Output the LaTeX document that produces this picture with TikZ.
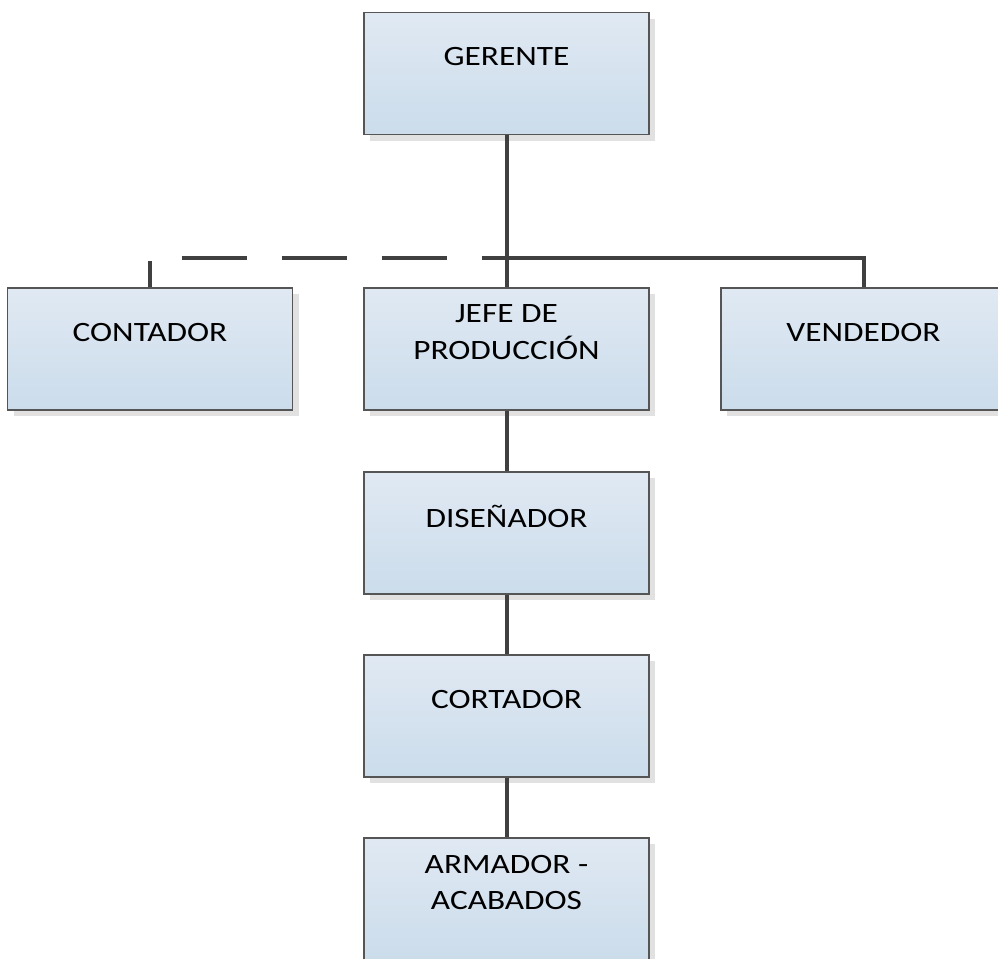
\documentclass[tikz,border=0pt]{standalone}
\usepackage{fontspec}
\setmainfont{Carlito}
\newfontfamily\rotulofont[FakeStretch=1.19]{Carlito}
\usetikzlibrary{positioning,calc,shadows}

\definecolor{boxtop}{RGB}{224,233,243}
\definecolor{boxbot}{RGB}{203,220,235}
\definecolor{boxline}{RGB}{85,85,85}
\definecolor{boxshadow}{RGB}{225,225,225}
\definecolor{linkgray}{RGB}{64,64,64}

\tikzset{every picture/.style={line width=0.75pt}}
\tikzset{
  puesto/.style={draw=boxline, line width=1pt, top color=boxtop, bottom color=boxbot,
    minimum width=213.75pt, minimum height=91.5pt, inner sep=0pt,
    general shadow={fill=boxshadow, shadow xshift=4.5pt, shadow yshift=-4.5pt}},
  rotulo/.style={align=center, inner sep=0.75pt, font=\rotulofont\fontsize{21}{27.5}\selectfont},
  enlace/.style={draw=linkgray, line width=3pt},
  enlacepunteado/.style={enlace, dash pattern=on 48.75pt off 26.25pt, dash phase=29.25pt}
}

\begin{document}
\begin{tikzpicture}[x=0.75pt,y=0.75pt,yscale=-1,xscale=1]
\useasboundingbox (0,0) rectangle (998,958);

% cajas
\node[puesto] (gerente) at (506.5,73.5) {};
\node[puesto] (contador) at (150,349) {};
\node[puesto] (jefe) at (506.5,349) {};
\node[puesto] (vendedor) at (863.5,349) {};
\node[puesto] (disenador) at (506.5,533) {};
\node[puesto] (cortador) at (506.5,716) {};
\node[puesto] (armador) at (506.5,899) {};

% textos
\node[rotulo] (gerente-t) at ($(gerente.north)+(0,45)$) {GERENTE};
\node[rotulo] (contador-t) at ($(contador.north)+(0,45)$) {CONTADOR};
\node[rotulo] (jefe-t) at ($(jefe.north)+(0,45)$) {JEFE DE\\PRODUCCIÓN};
\node[rotulo] (vendedor-t) at ($(vendedor.north)+(0,45)$) {VENDEDOR};
\node[rotulo] (disenador-t) at ($(disenador.north)+(0,45)$) {DISEÑADOR};
\node[rotulo] (cortador-t) at ($(cortador.north)+(0,45)$) {CORTADOR};
\node[rotulo] (armador-t) at ($(armador.north)+(0,45)$) {ARMADOR -\\ACABADOS};

% conectores
\coordinate (cruce) at (506.5,258);
\draw[enlace] (gerente) -- (jefe);
\draw[enlace] (cruce) -| (vendedor.north);
\draw[enlacepunteado] (contador.north) |- (cruce);
\draw[enlace] (jefe) -- (disenador);
\draw[enlace] (disenador) -- (cortador);
\draw[enlace] (cortador) -- (armador);

\end{tikzpicture}
\end{document}
